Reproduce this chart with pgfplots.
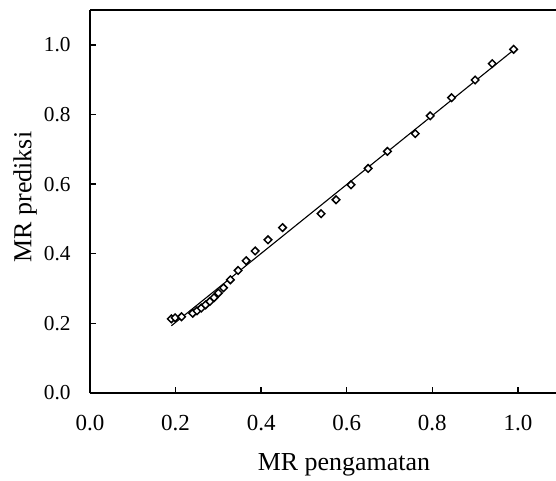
\documentclass[border=0pt]{standalone}
\usepackage{fontspec}
\setmainfont{Liberation Serif}
\usepackage{pgfplots}
\pgfplotsset{compat=1.18}
\begin{document}
\begin{tikzpicture}
\begin{axis}[
  scale only axis, width=251.6pt, height=206.8pt,
  xmin=0, xmax=1.089, ymin=0, ymax=1.1,
  axis lines*=left,
  axis line style={line width=1.2pt},
  clip=false,
  xtick={0,0.2,0.4,0.6,0.8,1.0},
  ytick={0,0.2,0.4,0.6,0.8,1.0},
  tick align=inside,
  major tick length=3.3pt,
  tick style={line width=0.8pt, black},
  /pgf/number format/assume math mode=true,
  xticklabel={\pgfmathprintnumber[fixed,fixed zerofill,precision=1]{\tick}},
  yticklabel={\pgfmathprintnumber[fixed,fixed zerofill,precision=1]{\tick}},
  xticklabel style={font=\fontsize{12.4}{14}\selectfont, anchor=base, inner sep=0pt, yshift=-20pt},
  yticklabel style={font=\fontsize{11.5}{13}\selectfont, anchor=east, inner sep=0pt, xshift=-10.3pt},
  xlabel={MR pengamatan},
  ylabel={MR prediksi},
  xlabel style={font=\fontsize{14}{16}\selectfont, at={(axis description cs:0.545,-0.188)}, anchor=center},
  ylabel style={font=\fontsize{14}{16}\selectfont, at={(axis description cs:-0.139,0.512)}, anchor=center},
]
\addplot[no marks, black, line width=0.6pt] coordinates {(0.19,0.193) (0.99,0.985)};
\addplot[only marks, mark=square*, mark size=1.45pt, mark options={rotate=45, fill=white, draw=black, line width=0.8pt}] coordinates {
(0.190,0.213) (0.199,0.216) (0.214,0.219) (0.240,0.229) (0.250,0.236) (0.260,0.244)
(0.270,0.253) (0.280,0.263) (0.290,0.274) (0.300,0.287) (0.312,0.302) (0.328,0.325)
(0.346,0.352) (0.365,0.380) (0.386,0.408) (0.416,0.440) (0.450,0.475) (0.540,0.515)
(0.575,0.555) (0.610,0.598) (0.650,0.645) (0.695,0.694) (0.760,0.745) (0.795,0.796)
(0.845,0.848) (0.900,0.899) (0.940,0.946) (0.990,0.987)
};
\coordinate (ll) at (rel axis cs:0,0);
\coordinate (ur) at (rel axis cs:1,1);
\draw[line width=1.2pt] (rel axis cs:0,1) -- (rel axis cs:1,1);
\end{axis}
\pgfresetboundingbox
\path ([shift={(-48.6pt,-47.5pt)}]ll) rectangle ([shift={(0pt,5.4pt)}]ur);
\end{tikzpicture}
\end{document}
